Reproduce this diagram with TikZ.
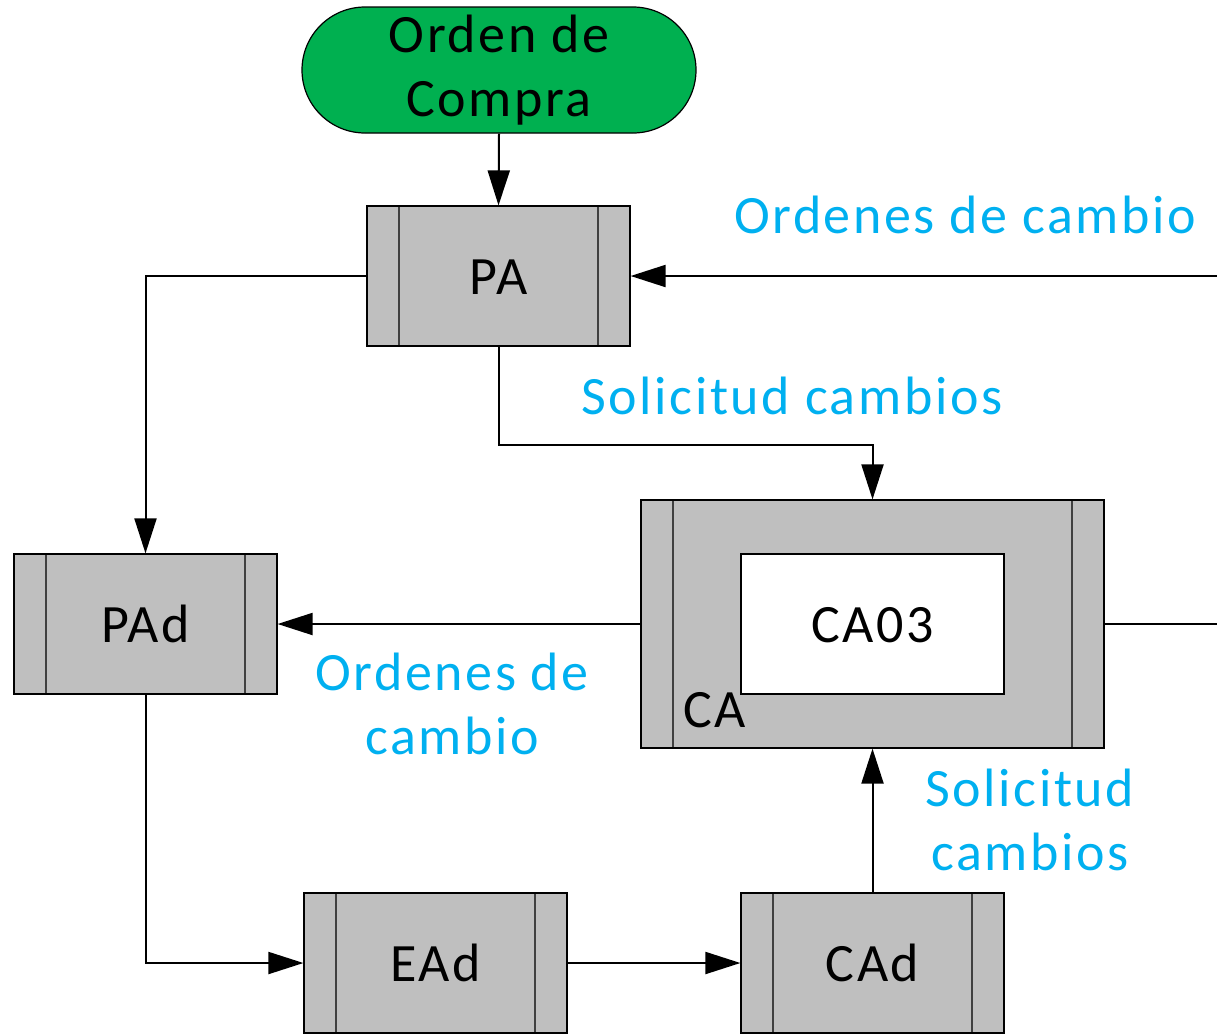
\documentclass[tikz,border=0pt]{standalone}
\usepackage{fontspec}
\setmainfont{Carlito}[LetterSpace=4.8]
\usetikzlibrary{arrows.meta}
\definecolor{termgreen}{HTML}{00B050}
\definecolor{boxgray}{HTML}{BFBFBF}
\definecolor{lblblue}{HTML}{00B0F0}
\definecolor{sidegray}{HTML}{404040}
\tikzset{
  proc/.style={draw=black, line width=1.2pt, fill=boxgray, minimum width=263pt, minimum height=140pt,
    inner sep=0pt, text height=36pt, text depth=0pt,
    path picture={
      \draw[sidegray, line width=1.2pt] ([xshift=32pt]path picture bounding box.north west) -- ([xshift=32pt]path picture bounding box.south west);
      \draw[sidegray, line width=1.2pt] ([xshift=-32pt]path picture bounding box.north east) -- ([xshift=-32pt]path picture bounding box.south east);
    }},
  inner/.style={draw=black, line width=1.2pt, fill=white, minimum width=263pt, minimum height=140pt,
    inner sep=0pt, text height=36pt, text depth=0pt},
  term/.style={draw=black, line width=1.2pt, fill=termgreen, minimum width=394pt, minimum height=126pt,
    rounded corners=63pt, inner sep=0pt, align=center},
  lbl/.style={text=lblblue, align=center, inner sep=0pt},
  conn/.style={line width=2pt, -{Triangle[length=35pt,width=22pt]}},
  plain/.style={line width=2pt},
}
\begin{document}
\begin{tikzpicture}[x=1pt, y=-1pt, font=\fontsize{54}{64}\selectfont]
\useasboundingbox (0,0) rectangle (1217,1034);
\node[term] (term) at (499,70) {Orden de\\Compra};
\node[proc] (PA) at (498.5,276) {PA};
\node[proc] (PAd) at (145.5,624) {PAd};
\node[proc, minimum width=463pt, minimum height=248pt] (CA) at (872.5,624) {};
\node[inner] (CA03) at (872.5,624) {CA03};
\node[anchor=base west, inner sep=0pt] (CAlbl) at (683,727) {CA};
\node[proc] (EAd) at (435.5,963) {EAd};
\node[proc] (CAd) at (872.5,963) {CAd};
\coordinate (rin) at (1217,276);
\coordinate (rout) at (1217,624);
\coordinate (bend) at (0,445);
\node[lbl, anchor=base] (l1) at (965,233) {Ordenes de cambio};
\node[lbl, anchor=base] (l2) at (792,414) {Solicitud cambios};
\node[lbl] (l3) at (452,704) {Ordenes de\\cambio};
\node[lbl] (l4) at (1030,820) {Solicitud\\cambios};
\draw[conn] (term.south) -- (PA.north);
\draw[conn] (rin) -- (PA.east);
\draw[conn] (PA.west) -| (PAd.north);
\draw[conn] (PA.south) -- (PA.south |- bend) -| (CA.north);
\draw[conn] (CA.west) -- (PAd.east);
\draw[plain] (CA.east) -- (rout);
\draw[conn] (PAd.south) |- (EAd.west);
\draw[conn] (EAd.east) -- (CAd.west);
\draw[conn] (CAd.north) -- (CA.south);
\end{tikzpicture}
\end{document}
